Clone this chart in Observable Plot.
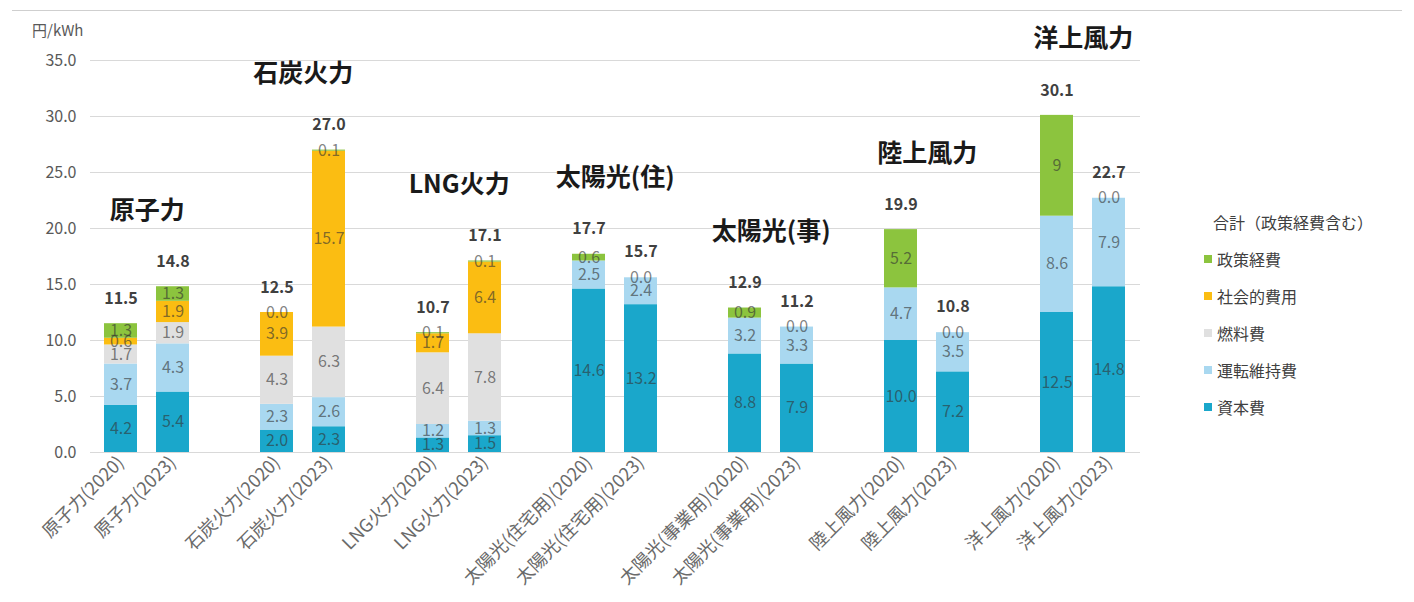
<!DOCTYPE html>
<html><head><meta charset="utf-8">
<script src="https://cdn.jsdelivr.net/npm/d3@7"></script>
<script src="https://cdn.jsdelivr.net/npm/@observablehq/plot@0.6"></script>
<style>
body{margin:0;background:#fff;font-family:"Noto Sans CJK JP","Noto Sans",sans-serif;}
#wrap{position:relative;width:1414px;height:602px;overflow:hidden;}
#chart{position:absolute;left:0;top:0;}
#topline{position:absolute;left:12px;top:10px;width:1390px;height:1px;background:#cfcfcf;}
#unit{position:absolute;left:32px;top:19px;font-size:15px;color:#595959;}
#legend{position:absolute;left:1204px;top:208px;font-size:16px;color:#404040;}
#legend .title{margin-left:9px;height:28px;line-height:28px;margin-bottom:9px;}
#legend .item{height:28px;line-height:28px;margin-bottom:9px;display:flex;align-items:center;}
#legend .sw{display:inline-block;width:8px;height:8px;margin-right:5px;}
</style></head>
<body><div id="wrap"><div id="topline"></div><div id="chart"></div><div id="unit">円/kWh</div><div id="legend"></div></div>
<script>
const categories = ["原子力(2020)","原子力(2023)","石炭火力(2020)","石炭火力(2023)","LNG火力(2020)","LNG火力(2023)","太陽光(住宅用)(2020)","太陽光(住宅用)(2023)","太陽光(事業用)(2020)","太陽光(事業用)(2023)","陸上風力(2020)","陸上風力(2023)","洋上風力(2020)","洋上風力(2023)"];
const groups = ["原子力","石炭火力","LNG火力","太陽光(住)","太陽光(事)","陸上風力","洋上風力"];
const seriesNames = ["資本費","運転維持費","燃料費","社会的費用","政策経費"];
const seriesColors = ["#1aa7cb","#a9d8f0","#e0e0e0","#fbbd12","#8cc43e"];
const capital = [4.2,5.4,2.0,2.3,1.3,1.5,14.6,13.2,8.8,7.9,10.0,7.2,12.5,14.8];
const operation = [3.7,4.3,2.3,2.6,1.2,1.3,2.5,2.4,3.2,3.3,4.7,3.5,8.6,7.9];
const fuel = [1.7,1.9,4.3,6.3,6.4,7.8,null,null,null,null,null,null,null,null];
const social = [0.6,1.9,3.9,15.7,1.7,6.4,null,null,null,null,null,null,null,null];
const policy = [1.3,1.3,0.0,0.1,0.1,0.1,0.6,0.0,0.9,0.0,5.2,0.0,9,0.0];
const totals = [11.5,14.8,12.5,27.0,10.7,17.1,17.7,15.7,12.9,11.2,19.9,10.8,30.1,22.7];
const yTicks = [0,5,10,15,20,25,30,35];
const legendTitle = "合計（政策経費含む）";

const seriesValues = [capital, operation, fuel, social, policy];
const rows = [];
categories.forEach((c, i) => {
  seriesNames.forEach((s, j) => {
    const v = seriesValues[j][i];
    if (v !== null) rows.push({cat: c, series: s, value: v});
  });
});
const totalRows = categories.map((c, i) => ({cat: c, total: totals[i]}));
const groupRows = groups.map((g, i) => ({group: g, first: categories[2*i], top: Math.max(totals[2*i], totals[2*i+1])}));
const slots = [];
groups.forEach((g, i) => {
  slots.push(categories[2*i], categories[2*i+1]);
  if (i < groups.length - 1) slots.push("gap" + i);
});

const W = 1414, H = 602, ml = 90, mr = 274, mt = 60, mb = 150;
const pi = 0.36, po = 0.2;
const xs = Plot.scale({x: {type: "band", domain: slots, range: [ml, W - mr], paddingInner: pi, paddingOuter: po}});
const half = xs.step / 2;
const fmtSeg = v => (v === 9 ? "9" : v.toFixed(1));

const chart = Plot.plot({
  width: W, height: H,
  marginLeft: ml, marginRight: mr, marginTop: mt, marginBottom: mb,
  style: {fontFamily: '"Noto Sans CJK JP","Noto Sans",sans-serif', fontSize: "14px", color: "#595959", background: "transparent", overflow: "visible"},
  x: {type: "band", domain: slots, paddingInner: pi, paddingOuter: po},
  y: {domain: [0, 35]},
  color: {domain: seriesNames, range: seriesColors},
  marks: [
    Plot.gridY({ticks: yTicks, stroke: "#d9d9d9", strokeOpacity: 1}),
    Plot.axisY({ticks: yTicks, tickFormat: d3.format(".1f"), tickSize: 0, tickPadding: 14, fontSize: 16, label: null}),
    Plot.axisX({ticks: categories, tickRotate: -45, tickSize: 0, tickPadding: 7, fontSize: 18, fill: "#6a6a6a", label: null}),
    Plot.barY(rows, {x: "cat", y: "value", fill: "series", z: "series", order: seriesNames}),
    Plot.text(rows, Plot.stackY({x: "cat", y: "value", z: "series", order: seriesNames, text: d => fmtSeg(d.value), fill: "#333", fillOpacity: 0.62, fontSize: 16})),
    Plot.text(totalRows, {x: "cat", y: "total", text: d => d.total.toFixed(1), dy: -25, fontWeight: "bold", fill: "#404040", fontSize: 16}),
    Plot.text(groupRows, {x: "first", y: "top", text: "group", dx: half, dy: -76, fontWeight: "bold", fontSize: 25, fill: "#1a1a1a"})
  ]
});
document.getElementById("chart").appendChild(chart);

const legend = document.getElementById("legend");
const t = document.createElement("div");
t.className = "title"; t.textContent = legendTitle;
legend.appendChild(t);
seriesNames.slice().reverse().forEach(s => {
  const it = document.createElement("div");
  it.className = "item";
  const sw = document.createElement("span");
  sw.className = "sw";
  sw.style.background = seriesColors[seriesNames.indexOf(s)];
  it.appendChild(sw);
  it.appendChild(document.createTextNode(s));
  legend.appendChild(it);
});
</script>
</body></html>
